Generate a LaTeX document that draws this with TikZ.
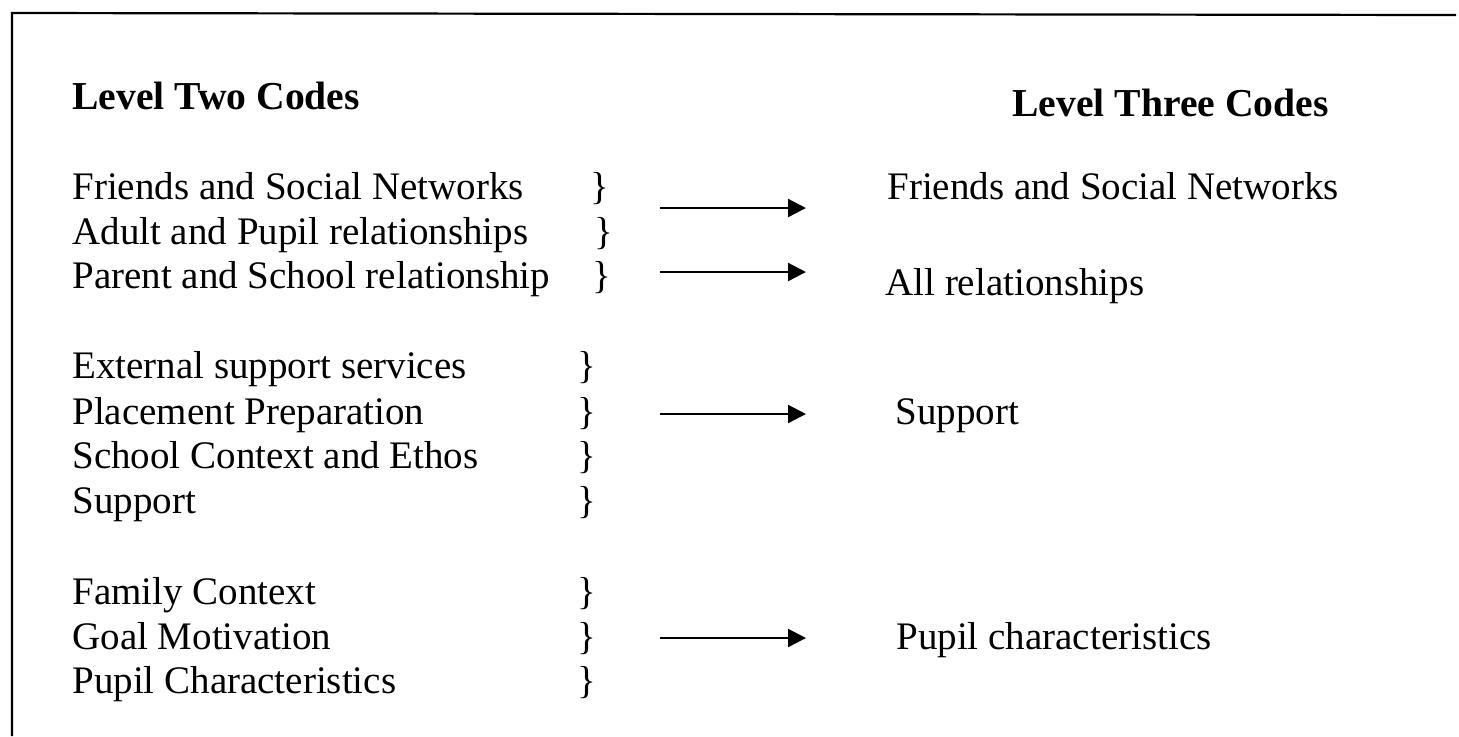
\documentclass[tikz,border=0pt]{standalone}
\usepackage{fontspec}
\setmainfont{Liberation Serif}
\usetikzlibrary{arrows.meta}
\begin{document}
\begin{tikzpicture}[x=0.5pt,y=-0.5pt,
  txt/.style={anchor=base west,inner sep=0pt,font=\fontsize{19.5}{23}\selectfont},
  head/.style={txt,font=\fontsize{19.8}{23}\selectfont\bfseries},
  brace/.style={txt},
  arr/.style={line width=1.1pt,-{Triangle[length=9pt,width=9pt]}}]
\useasboundingbox (0,0) rectangle (1459,736);
\draw[line width=1.1pt] (12,736) -- (12,13) -- (1456,15);
% headings
\node[head] (h2) at (72,109) {Level Two Codes};
\node[head] (h3) at (1012,116) {Level Three Codes};
% level two codes
\node[txt] (a1) at (72,199) {Friends and Social Networks};
\node[txt] (a2) at (72,244) {Adult and Pupil relationships};
\node[txt] (a3) at (72,288) {Parent and School relationship};
\node[txt] (b1) at (72,378) {External support services};
\node[txt] (b2) at (72,424) {Placement Preparation};
\node[txt] (b3) at (72,468) {School Context and Ethos};
\node[txt] (b4) at (72,513) {Support};
\node[txt] (c1) at (72,604) {Family Context};
\node[txt] (c2) at (72,649) {Goal Motivation};
\node[txt] (c3) at (72,693) {Pupil Characteristics};
% braces
\node[brace] (ba1) at (590,199) {\}};
\node[brace] (ba2) at (594,244) {\}};
\node[brace] (ba3) at (592,288) {\}};
\node[brace] (bb1) at (577,378) {\}};
\node[brace] (bb2) at (577,424) {\}};
\node[brace] (bb3) at (577,468) {\}};
\node[brace] (bb4) at (577,513) {\}};
\node[brace] (bc1) at (577,604) {\}};
\node[brace] (bc2) at (577,649) {\}};
\node[brace] (bc3) at (577,693) {\}};
% level three codes
\node[txt] (r1) at (887,199) {Friends and Social Networks};
\node[txt] (r2) at (885,295) {All relationships};
\node[txt] (r3) at (895,424) {Support};
\node[txt] (r4) at (896,649) {Pupil characteristics};
% arrows
\coordinate (s1) at (660,208); \coordinate (e1) at (806,208);
\coordinate (s2) at (660,272); \coordinate (e2) at (806,272);
\coordinate (s3) at (660,414); \coordinate (e3) at (806,414);
\coordinate (s4) at (660,638); \coordinate (e4) at (806,638);
\draw[arr] (s1) -- (e1);
\draw[arr] (s2) -- (e2);
\draw[arr] (s3) -- (e3);
\draw[arr] (s4) -- (e4);
\end{tikzpicture}
\end{document}
